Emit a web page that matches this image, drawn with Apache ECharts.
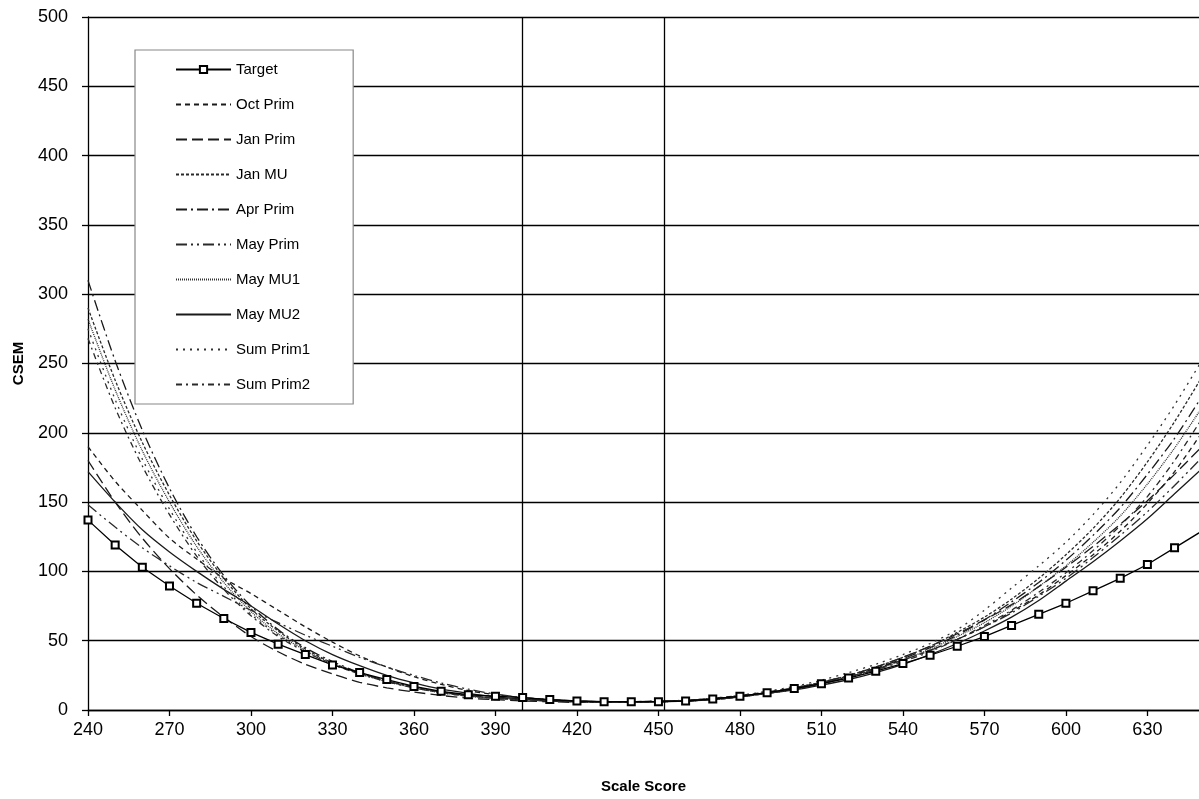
<!DOCTYPE html>
<html><head><meta charset="utf-8">
<script src="https://cdn.jsdelivr.net/npm/echarts/dist/echarts.min.js"></script>
<style>html,body{margin:0;padding:0;background:#fff}#c{width:1199px;height:799px}</style>
</head><body><div id="c"></div><script>
const scores = [240,250,260,270,280,290,300,310,320,330,340,350,360,370,380,390,400,410,420,430,440,450,460,470,480,490,500,510,520,530,540,550,560,570,580,590,600,610,620,630,640,650];
const xTickInterval = 30;
const yTickInterval = 50;
const cutLines = [400, 452];

const target   = [137,119,103,89.5,77,66,56,47.5,40,32.5,27,22,17,13.5,11,10,9,7.5,6.5,6,6,6,6.5,8,10,12.5,15.5,19,23,28,33.5,39.5,46,53,61,69,77,86,95,105,117,129];
const octPrim  = [190,165,144,124,109,95,84,72,60,49,39,31,24,18.5,14,11,9,7.5,6.5,6,6,6.5,7,8.5,10.5,13,16,20,24.5,30,36,43,51,60,71,83,97,112,129,149,172,200];
const janPrim  = [180,150,124,102,83,67,53,42,33,26,20,16,13,10.5,8.5,7.5,6.5,6,5.5,5.5,5.5,6,6.5,8,10,12.5,16,20,25,31,38,46,55,65,76,89,103,118,134,151,170,190];
const janMU    = [290,238,193,155,122,95,73,57,44,34,27,21,16.5,13,10.5,8.5,7.5,6.5,6,5.5,5.5,6,6.5,8,10,12.5,16,20,25,31,38,46,56,67,80,95,112,131,153,179,208,240];
const aprPrim  = [310,252,202,160,125,97,75,58,45,35,27,21,16.5,13,10.5,8.5,7.5,6.5,6,5.5,5.5,6,6.5,7.5,9.5,12,15,19,24,30,37,45,54,65,78,92,108,126,146,170,196,226];
const mayPrim  = [148,132,117,104,92,82,72,63,54,46,38,31,25,19.5,15,11.5,9,7.5,6.5,6,6,6.5,7,8,10,12.5,15.5,19.5,24,29.5,36,43,51,60,70,82,95,110,126,143,162,182];
const mayMU1   = [282,231,187,150,118,92,71,55,43,33.5,26.5,20.5,16,12.5,10,8.5,7.5,6.5,6,5.5,5.5,6,6.5,7.5,9.5,12,15,19,24,29,36,44,53,63,75,89,104,121,140,163,189,218];
const mayMU2   = [172,150,130,114,100,87,75,62,50,40,32,25,19.5,15,12,9.5,8,7,6,5.5,5.5,6,6.5,7.5,9.5,12,14.5,18,22,27,33,40,48,57,67,79,93,107,122,138,156,174];
const sumPrim1 = [275,224,181,145,114,89,69,54,42,33,26,20.5,16,12.5,10,8.5,7.5,6.5,6,5.5,5.5,6,7,8.5,10.5,13.5,17,21.5,27,33,40,48,58,72,88,104,121,141,164,191,220,252];
const sumPrim2 = [268,218,176,141,111,87,68,53,42,33,26,20.5,16,12.5,10,8.5,7.5,6.5,6,5.5,5.5,6,6.5,7.5,9.5,12,15,19,23.5,29,35,42,51,61,72,85,99,115,133,154,180,210];

const seriesNames = ['Target','Oct Prim','Jan Prim','Jan MU','Apr Prim','May Prim','May MU1','May MU2','Sum Prim1','Sum Prim2'];
const seriesValues = [target,octPrim,janPrim,janMU,aprPrim,mayPrim,mayMU1,mayMU2,sumPrim1,sumPrim2];
const dashes = ['solid',[5,4],[11,5],[3,2],[11,4,2,4],[11,4,2,4,2,4],[1,1],'solid',[2,5],[6,4,2,4]];
const colors = ['#000','#1a1a1a','#1a1a1a','#2a2a2a','#1a1a1a','#2a2a2a','#333','#1a1a1a','#333','#2a2a2a'];

const series = seriesNames.map((name, i) => {
  const s = {
    name: name,
    type: 'line',
    data: scores.map((x, j) => [x, seriesValues[i][j]]),
    symbol: i === 0 ? 'emptyRect' : 'none',
    symbolSize: 7,
    showSymbol: i === 0,
    clip: true,
    smooth: i === 0 ? false : 0.3,
    color: colors[i],
    lineStyle: { color: colors[i], width: 1.3, type: dashes[i] },
    itemStyle: { color: '#000', borderColor: '#000', borderWidth: 1.3 },
    z: i === 0 ? 5 : 3,
    animation: false
  };
  if (i === 0) {
    s.markLine = {
      silent: true, symbol: 'none', animation: false,
      label: { show: false },
      lineStyle: { color: '#000', width: 1.3, type: 'solid' },
      data: cutLines.map(v => ({ xAxis: v }))
    };
  }
  return s;
});

const legendData = seriesNames.map((name, i) => i === 0 ? { name: name } : {
  name: name,
  itemStyle: { color: 'rgba(0,0,0,0)', borderColor: 'rgba(0,0,0,0)', borderWidth: 0, opacity: 0 }
});

const chart = echarts.init(document.getElementById('c'), null, { renderer: 'canvas' });
chart.setOption({
  backgroundColor: '#fff',
  animation: false,
  textStyle: { fontFamily: 'Liberation Sans' },
  grid: { left: 88, right: 0, top: 17, bottom: 88, containLabel: false },
  legend: {
    orient: 'vertical',
    left: 135, top: 50,
    padding: [12, 43, 12, 40],
    itemWidth: 55, itemHeight: 9, itemGap: 20,
    backgroundColor: '#fff',
    borderColor: '#888', borderWidth: 1.2,
    textStyle: { color: '#000', fontSize: 15, fontFamily: 'Liberation Sans' },
    data: legendData
  },
  xAxis: {
    type: 'value', min: 240, max: 649, interval: xTickInterval,
    name: 'Scale Score', nameLocation: 'middle', nameGap: 69,
    nameTextStyle: { color: '#000', fontWeight: 'bold', fontSize: 15 },
    axisLine: { lineStyle: { color: '#000', width: 1.3 } },
    axisTick: { show: true, length: 6, lineStyle: { color: '#000', width: 1.3 } },
    axisLabel: { color: '#000', fontSize: 18, margin: 11, showMaxLabel: false },
    splitLine: { show: false }
  },
  yAxis: {
    type: 'value', min: 0, max: 500, interval: yTickInterval,
    name: 'CSEM', nameLocation: 'middle', nameGap: 62,
    nameTextStyle: { color: '#000', fontWeight: 'bold', fontSize: 15 },
    axisLine: { show: true, lineStyle: { color: '#000', width: 1.3 } },
    axisTick: { show: true, length: 6, lineStyle: { color: '#000', width: 1.3 } },
    axisLabel: { color: '#000', fontSize: 18, margin: 20 },
    splitLine: { show: true, lineStyle: { color: '#000', width: 1.3 } }
  },
  series: series
});
</script></body></html>
